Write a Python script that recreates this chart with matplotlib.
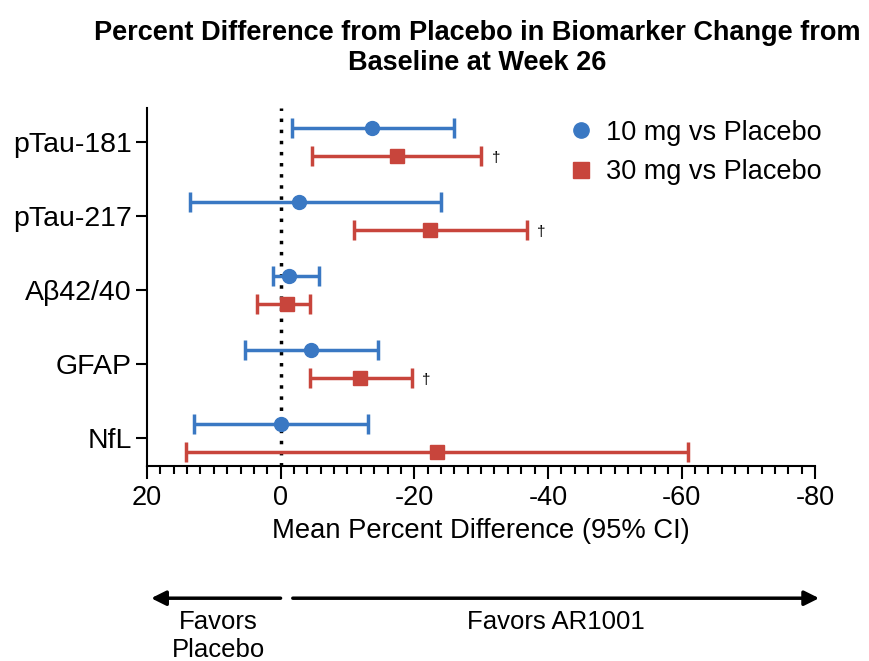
import numpy as np
import matplotlib.pyplot as plt
import matplotlib.transforms as mtransforms
from matplotlib.lines import Line2D
from matplotlib.ticker import MultipleLocator

plt.rcParams['font.family'] = ['Liberation Sans', 'DejaVu Sans']
plt.rcParams['axes.unicode_minus'] = False

biomarkers = ['pTau-181', 'pTau-217', 'Aβ42/40', 'GFAP', 'NfL']

# mean percent difference and 95% CI bounds
mean_10 = [-13.6, -2.8, -1.2, -4.6, 0.0]
lo_10 = [-1.7, 13.6, 1.2, 5.4, 13.0]
hi_10 = [-25.9, -24.0, -5.8, -14.6, -13.0]

mean_30 = [-17.4, -22.3, -1.0, -11.9, -23.4]
lo_30 = [-4.7, -11.0, 3.6, -4.4, 14.1]
hi_30 = [-30.0, -36.8, -4.4, -19.6, -61.0]

dagger_30 = [True, True, False, True, False]

blue = '#3a78c3'
red = '#c8453c'

fig = plt.figure(figsize=(8.7, 6.61), dpi=100)
ax = fig.add_axes([0.169, 0.295, 0.768, 0.542])

y = np.arange(len(biomarkers))
off = 0.19

m10 = np.array(mean_10)
m30 = np.array(mean_30)
err10 = np.abs([m10 - np.array(hi_10), np.array(lo_10) - m10])
err30 = np.abs([m30 - np.array(hi_30), np.array(lo_30) - m30])

ax.errorbar(m10, y - off, xerr=err10, fmt='o', color=blue, ms=10,
            elinewidth=2.5, capsize=7, capthick=2.5, zorder=3)
ax.errorbar(m30, y + off, xerr=err30, fmt='s', color=red, ms=10,
            elinewidth=2.5, capsize=7, capthick=2.5, zorder=3)

for i, d in enumerate(dagger_30):
    if d:
        ax.text(hi_30[i] - 1.6, y[i] + off + 0.03, '†', fontsize=11, va='center', ha='left')

ax.axvline(0, color='black', ls=(0, (1, 2.2)), lw=2.5, zorder=1)

ax.set_xlim(20, -80)
ax.set_ylim(4.38, -0.46)
ax.xaxis.set_major_locator(MultipleLocator(20))
ax.xaxis.set_minor_locator(MultipleLocator(2))
ax.set_yticks(y)
ax.set_yticklabels(biomarkers)

for s in ['top', 'right']:
    ax.spines[s].set_visible(False)
for s in ['left', 'bottom']:
    ax.spines[s].set_linewidth(1.5)
ax.tick_params(axis='both', which='major', width=1.5, length=9, pad=3)
ax.tick_params(axis='y', labelsize=20.5, length=8, pad=3)
ax.tick_params(axis='x', which='major', labelsize=19.5, pad=5)
ax.tick_params(axis='x', which='minor', width=1.5, length=6)

ax.set_xlabel('Mean Percent Difference (95% CI)', fontsize=19.7, labelpad=5)

fig.suptitle('Percent Difference from Placebo in Biomarker Change from\nBaseline at Week 26',
             fontsize=19.5, fontweight='bold', x=0.548, y=0.97, linespacing=1.2)

handles = [Line2D([], [], ls='none', marker='o', color=blue, ms=11),
           Line2D([], [], ls='none', marker='s', color=red, ms=11)]
ax.legend(handles, ['10 mg vs Placebo', '30 mg vs Placebo'], loc='upper left',
          bbox_to_anchor=(0.588, 1.035), frameon=False, fontsize=19.5,
          handletextpad=0.35, labelspacing=0.5, handlelength=1.2)

# favors arrows below the axis
tr = mtransforms.blended_transform_factory(ax.transData, fig.transFigure)
ay = 0.095
ax.annotate('', xy=(19.8, ay), xytext=(-0.4, ay), xycoords=tr, textcoords=tr,
            arrowprops=dict(arrowstyle='-|>', lw=2.5, color='black', mutation_scale=22),
            annotation_clip=False)
ax.annotate('', xy=(-81.0, ay), xytext=(-1.4, ay), xycoords=tr, textcoords=tr,
            arrowprops=dict(arrowstyle='-|>', lw=2.5, color='black', mutation_scale=22),
            annotation_clip=False)
ax.text(9.3, 0.077, 'Favors\nPlacebo', transform=tr, ha='center', va='top',
        fontsize=18.5, linespacing=1.2)
ax.text(-41.2, 0.077, 'Favors AR1001', transform=tr, ha='center', va='top',
        fontsize=18.5)

fig.savefig('out.png', dpi=100)
